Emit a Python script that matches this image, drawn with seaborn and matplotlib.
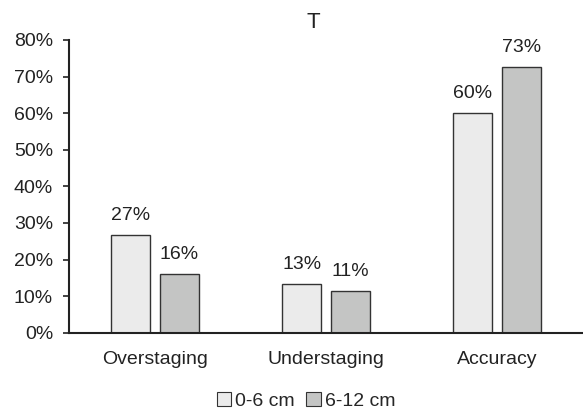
import matplotlib
matplotlib.use("Agg")
import matplotlib.pyplot as plt
import seaborn as sns
import pandas as pd
from matplotlib.patches import Patch
from matplotlib.ticker import PercentFormatter

categories = ["Overstaging", "Understaging", "Accuracy"]
groups = ["0-6 cm", "6-12 cm"]
vals_0_6 = [26.6, 13.3, 60.0]
vals_6_12 = [16.0, 11.3, 72.6]
labels_0_6 = ["27%", "13%", "60%"]
labels_6_12 = ["16%", "11%", "73%"]

df = pd.DataFrame({
    "category": categories * 2,
    "group": [groups[0]] * 3 + [groups[1]] * 3,
    "value": vals_0_6 + vals_6_12,
})

sns.set_style("white")
plt.rcParams["font.family"] = ["Liberation Sans", "DejaVu Sans"]

colors = ["#ebebeb", "#c4c5c4"]
fig = plt.figure(figsize=(5.83, 4.12), dpi=100)
ax = fig.add_axes([69/583, 79.3/412, 1 - 69/583, (332.7-40)/412])

sns.barplot(data=df, x="category", y="value", hue="group", order=categories,
            hue_order=groups, palette=colors, width=0.57, gap=0.2,
            edgecolor="#333333", linewidth=1.0, ax=ax, legend=False)

for cont, labs in zip(ax.containers, [labels_0_6, labels_6_12]):
    ax.bar_label(cont, labels=labs, padding=8, fontsize=14, color="#222222")

ax.set_xlim(-0.5, 2.5)
ax.set_ylim(0, 80)
ax.set_yticks(range(0, 81, 10))
ax.yaxis.set_major_formatter(PercentFormatter(decimals=0))
ax.set_xlabel("")
ax.set_ylabel("")
for s in ["top", "right"]:
    ax.spines[s].set_visible(False)
for s in ["left", "bottom"]:
    ax.spines[s].set_color("#222222")
    ax.spines[s].set_linewidth(1.5)
ax.tick_params(axis="y", which="major", left=True, length=4.5, width=1.2,
               color="#222222", labelsize=14, pad=7, labelcolor="#222222")
ax.tick_params(axis="x", bottom=False, labelsize=14, pad=10, labelcolor="#222222")

fig.text(313/583, 1 - 23/412, "T", ha="center", va="center", fontsize=16, color="#222222")

handles = [Patch(facecolor=c, edgecolor="#333333", linewidth=0.8) for c in colors]
fig.legend(handles, groups, loc="center", bbox_to_anchor=(306/583, 1 - 401/412),
           ncol=2, frameon=False, fontsize=14, handlelength=0.75, handleheight=0.75,
           handletextpad=0.2, columnspacing=0.6, borderpad=0)

fig.savefig("out.png", dpi=100)
